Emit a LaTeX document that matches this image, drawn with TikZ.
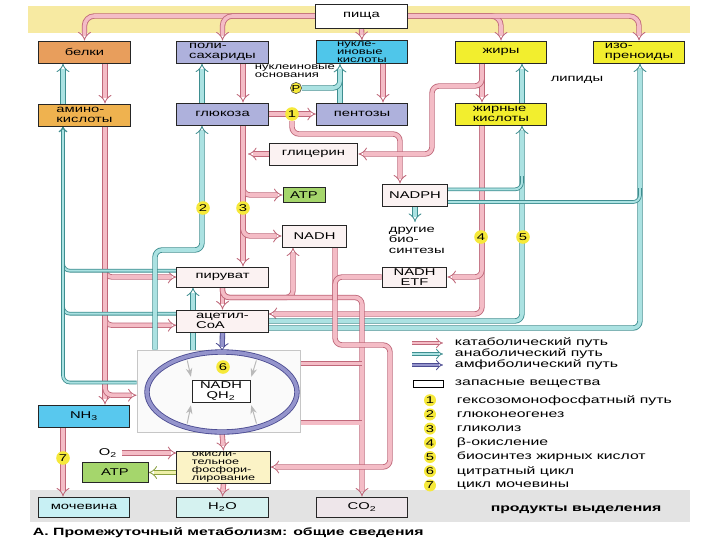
\documentclass[tikz,border=0pt]{standalone}
\usepackage{fontspec}
\setmainfont{Liberation Sans}[FakeStretch=1.5]
\usetikzlibrary{arrows.meta, positioning, shapes.geometric, backgrounds}

\definecolor{bandY}{HTML}{F7EAA2}
\definecolor{bandG}{HTML}{E3E3E3}
\definecolor{protF}{HTML}{E89E5C}
\definecolor{aminoF}{HTML}{EFB24F}
\definecolor{carbF}{HTML}{AEB1DC}
\definecolor{nuclF}{HTML}{4FC6EA}
\definecolor{lipF}{HTML}{F2EE2E}
\definecolor{metF}{HTML}{FBF2F2}
\definecolor{atpF}{HTML}{A5D66C}
\definecolor{nhF}{HTML}{58C8EE}
\definecolor{ureaF}{HTML}{C8F0F4}
\definecolor{waterF}{HTML}{D5F2F0}
\definecolor{coF}{HTML}{EEE6EA}
\definecolor{oxF}{HTML}{FBF3C6}
\definecolor{numF}{HTML}{F6E93A}
\definecolor{catE}{HTML}{C0687A}
\definecolor{catF}{HTML}{F4BCC6}
\definecolor{anaE}{HTML}{3E8E90}
\definecolor{anaF}{HTML}{ABE2E2}
\definecolor{amphE}{HTML}{4C4C92}
\definecolor{amphF}{HTML}{9494CC}
\definecolor{enrE}{HTML}{8AA040}
\definecolor{enrF}{HTML}{EEF0A8}

\newcommand\boxfnt{\fontsize{7}{7.5}\selectfont}
\newcommand\bxs{\fontsize{6.2}{5.9}\selectfont}
\newcommand\lgd{\fontsize{7.5}{8}\selectfont}

\pgfdeclarelayer{bands}
\pgfsetlayers{bands,background,main}

\begin{document}
\begin{tikzpicture}[
  x=0.025cm, y=-0.025cm,
  every node/.style={font=\boxfnt},
  box/.style={rectangle, draw=black!85, line width=0.7pt,
              minimum width=2.28cm, minimum height=0.55cm,
              inner sep=0.5pt, align=left},
  sbox/.style={box, minimum width=1.62cm},
  num/.style={circle, fill=numF, inner sep=0pt, minimum size=0.34cm},
  pipe/.style={line width=0.6pt, double distance=2.6pt,
               rounded corners=5pt, -Implies},
  cat/.style={pipe, draw=catE, double=catF},
  ana/.style={pipe, draw=anaE, double=anaF},
  anathin/.style={ana, double distance=1.4pt},
  amph/.style={pipe, draw=amphE, double=amphF},
  enr/.style={pipe, draw=enrE, double=enrF},
  gry/.style={-Stealth, draw=gray!55, line width=0.7pt},
  leg/.style={anchor=west, font=\lgd},
]
\useasboundingbox (0,0) rectangle (720,540);

%% ── Lanes (x of the vertical pipes) ───────────────────
\coordinate (aaUp)  at (63,0);
\coordinate (aaDn)  at (105,0);
\coordinate (gngL)  at (155,0);
\coordinate (pyrUp) at (193,0);
\coordinate (glUp)  at (202,0);
\coordinate (glDn)  at (243,0);
\coordinate (pdhL)  at (293,0);
\coordinate (nadhL) at (335,0);
\coordinate (ntUp)  at (340,0);
\coordinate (ntDn)  at (383,0);
\coordinate (pnL)   at (400,0);
\coordinate (faDn)  at (482,0);
\coordinate (faUp)  at (522,0);
\coordinate (isUp)  at (640,0);

%% ── Food and stores ───────────────────────────────────
\node[box, fill=white, minimum height=0.6cm] (food) at (361.5,16) {пища};

\node[box, fill=protF] (prot) at (84.5,52)  {белки};
\node[box, fill=carbF] (poly) at (222.5,52) {поли-\\сахариды};
\node[box, fill=nuclF, font=\bxs] (nucl) at (362,52) {нукле-\\иновые\\кислоты};
\node[box, fill=lipF]  (fat)  at (501,52)   {жиры};
\node[box, fill=lipF]  (isop) at (639,52)   {изо-\\преноиды};

\node[box, fill=aminoF] (amino) at (84.5,115)  {амино-\\кислоты};
\node[box, fill=carbF]  (gluc)  at (222.5,114) {глюкоза};
\node[box, fill=carbF]  (pent)  at (362,114)   {пентозы};
\node[box, fill=lipF]   (facid) at (501,114)   {жирные\\кислоты};

%% ── Intermediates ─────────────────────────────────────
\node[box, fill=metF, minimum width=2.22cm] (glyc) at (313.5,154) {глицерин};
\node[box, fill=atpF, minimum width=1.05cm, minimum height=0.38cm] (atpa) at (304,195) {ATP};
\node[sbox, fill=metF] (nadh)  at (314.5,236) {NADH};
\node[sbox, fill=metF] (nadph) at (415,195)   {NADPH};
\node[sbox, fill=metF, minimum height=0.5cm, align=center] (etf) at (414.5,277) {NADH\\ETF};
\node[box, fill=metF, minimum height=0.5cm] (pyr)  at (222.5,277) {пируват};
\node[box, fill=metF] (acoa) at (222.5,321) {ацетил-\\CoA};

%% ── Citrate cycle ─────────────────────────────────────
\node[draw=gray!45, fill=gray!4, minimum width=4.08cm, minimum height=2.05cm] (cbox) at (218.5,391) {};
\node[ellipse, draw=amphE, double=amphF, double distance=2.6pt, line width=0.6pt,
      minimum width=3.75cm, minimum height=2cm] (cyc) at (222,392) {};
\node[box, fill=white, minimum width=1.45cm, align=center] (qh) at (221,391) {NADH\\QH\textsubscript{2}};

%% ── Respiration and excretion ─────────────────────────
\node[box, fill=oxF, minimum width=2.33cm, minimum height=0.8cm,
      font=\fontsize{6}{5.6}\selectfont] (oxph) at (223.5,467) {окисли-\\тельное\\фосфори-\\лирование};
\node[box, fill=atpF, minimum width=1.65cm, minimum height=0.52cm, align=center] (atpb) at (115,472.5) {ATP};
\node (oxy) at (108,453) {O\textsubscript{2}};
\node[box, fill=nhF, align=center] (nh3) at (84,416) {NH\textsubscript{3}};

\node[box, fill=ureaF,  minimum height=0.5cm] (urea)  at (84,507)    {мочевина};
\node[box, fill=waterF, minimum height=0.5cm, align=center] (water) at (222.5,507) {H\textsubscript{2}O};
\node[box, fill=coF,    minimum height=0.5cm, align=center] (co2)   at (362,507)   {CO\textsubscript{2}};
\node[font=\bfseries\lgd] (excr) at (576,510) {продукты выделения};

%% ── Pathway numbers ───────────────────────────────────
\node[num] (n1) at (292,114) {1};
\node[num] (n2) at (203,208) {2};
\node[num] (n3) at (243,208) {3};
\node[num] (n4) at (481,237) {4};
\node[num] (n5) at (523,237) {5};
\node[num] (n6) at (223,367) {6};
\node[num] (n7) at (63,458)  {7};
\node[num, draw=black!70, minimum size=0.28cm, font=\bxs] (pho) at (296,88) {P};

%% ── Free labels ───────────────────────────────────────
\node[anchor=west, align=left, font=\bxs] (bases) at (250,71) {нуклеиновые\\основания};
\node (lip) at (577,80) {липиды};
\node[anchor=north west, align=left] (bios) at (384,222) {другие\\био-\\синтезы};
\node[anchor=west, font=\bfseries\lgd] (capt) at (28,533) {А. Промежуточный метаболизм: общие сведения};

%% ── Join points ───────────────────────────────────────
\coordinate (glyJ) at (248,154);
\coordinate (gngK) at (202,250);
\coordinate (pnK)  at (400,134);
\coordinate (phJ)  at (340,74);
\coordinate (glyK) at (432,86);
\coordinate (j5)   at (522,176);
\coordinate (j6)   at (640,188);
\coordinate (oxK)  at (390,345);
\coordinate (etfJ) at (335,300);

%% ── Pipes ─────────────────────────────────────────────
\begin{pgfonlayer}{background}
  % food
  \draw[cat, rounded corners=7pt] (food.west) -| (prot.north);
  \draw[cat, rounded corners=7pt] (food.west) -| (poly.north);
  \draw[cat] (food.south) -- (nucl.north);
  \draw[cat, rounded corners=7pt] (food.east) -| (fat.north);
  \draw[cat, rounded corners=7pt] (food.east) -| (isop.north);

  % proteins
  \draw[cat] (prot.south -| aaDn) -- (amino.north -| aaDn);
  \draw[ana] (amino.north -| aaUp) -- (prot.south -| aaUp);
  \draw[cat] (amino.south -| aaDn) -- (nh3.north -| aaDn);
  \draw[cat] (amino.south -| aaDn) |- (pyr.west);
  \draw[cat] (amino.south -| aaDn) |- ([yshift=-3pt]acoa.west);
  \draw[cat] (amino.south -| aaDn) |- ([yshift=-3pt]cbox.west);
  \draw[anathin] ([yshift=-3pt]pyr.north west) -| (amino.south -| aaUp);
  \draw[anathin] ([yshift=-3pt]acoa.north west) -| (amino.south -| aaUp);
  \draw[anathin] ([yshift=6pt]cbox.west) -| (amino.south -| aaUp);
  \draw[cat] (nh3.south -| aaUp) -- (urea.north -| aaUp);

  % carbohydrates
  \draw[cat] (poly.south -| glDn) -- (gluc.north -| glDn);
  \draw[ana] (gluc.north -| glUp) -- (poly.south -| glUp);
  \draw[cat] (gluc.south -| glDn) -- (pyr.north -| glDn);
  \draw[cat] (gluc.south -| glDn) |- (atpa.west);
  \draw[cat] (gluc.south -| glDn) |- (nadh.west);
  \draw[cat] (glyc.west) -- (glyJ);
  \draw[ana] (cbox.north -| gngL) |- (gngK) -- (gluc.south -| glUp);
  \draw[ana] (cbox.north -| pyrUp) -- (pyr.south -| pyrUp);

  % pentoses
  \draw[cat] (gluc.east) -- (pent.west);
  \draw[cat] (n1.south) |- (pnK) -- (nadph.north -| pnL);
  \draw[cat] (nucl.south -| ntDn) -- (pent.north -| ntDn);
  \draw[ana] (pent.north -| ntUp) -- (nucl.south -| ntUp);
  \draw[ana, -] (pho.east) -| (phJ);

  % lipids
  \draw[cat] (fat.south -| faDn) -- (facid.north -| faDn);
  \draw[cat] (fat.south -| faDn) |- (glyK) |- (glyc.east);
  \draw[ana] (facid.north -| faUp) -- (fat.south -| faUp);
  \draw[cat] (facid.south -| faDn) |- ([yshift=5pt]acoa.east);
  \draw[cat] (facid.south -| faDn) |- (etf.east);
  \draw[ana] (acoa.east) -| (facid.south -| faUp);
  \draw[ana] ([yshift=-5pt]acoa.east) -| (isop.south -| isUp);
  \draw[anathin, -] ([yshift=4pt]nadph.east) -| (j5);
  \draw[anathin, -] ([yshift=-5pt]nadph.east) -| (j6);
  \draw[ana] (nadph.south) -- (bios.north -| nadph.south);

  % pyruvate, NADH, CO2
  \draw[cat] (pyr.south) -- (acoa.north);
  \draw[cat] (pyr.south) -- ++(0,10) -| (nadh.south -| pdhL);
  \draw[cat] (pyr.south) -- ++(0,10) -| (co2.north);
  \draw[cat] (nadh.south -| nadhL) |- (oxK) |- (oxph.east);
  \draw[cat, -] (etf.west) -| (etfJ);

  % cycle and respiration
  \draw[amph] (acoa.south) -- (cyc.north);
  \draw[cat, -] (cyc.28) -- (cyc.28 -| co2.north);
  \draw[cat, -] (cyc.-32) -- (cyc.-32 -| co2.north);
  \draw[cat] (cyc.south) -- (oxph.north);
  \draw[cat] (oxph.south) -- (water.north);
  \draw[cat] (oxy.east) -- (oxy.east -| oxph.west);
  \draw[enr] (oxph.west |- atpb.east) -- (atpb.east);
\end{pgfonlayer}

% electrons into NADH/QH2
\draw[gry, shorten <=3pt, shorten >=2pt] (cyc.135) -- (qh.north west);
\draw[gry, shorten <=3pt, shorten >=2pt] (cyc.45)  -- (qh.north east);
\draw[gry, shorten <=3pt, shorten >=2pt] (cyc.-135) -- (qh.south west);
\draw[gry, shorten <=3pt, shorten >=2pt] (cyc.-45)  -- (qh.south east);

%% ── Legend ────────────────────────────────────────────
\node[leg] (lcat)   at (450,343) {катаболический путь};
\node[leg] (lana)   at (450,354) {анаболический путь};
\node[leg] (lamph)  at (450,365) {амфиболический путь};
\node[leg] (lstore) at (450,384) {запасные вещества};
\draw[cat, double distance=2pt]  ([xshift=-27pt]lcat.west)  -- ([xshift=-5pt]lcat.west);
\draw[ana, double distance=2pt]  ([xshift=-27pt]lana.west)  -- ([xshift=-5pt]lana.west);
\draw[amph, double distance=2pt] ([xshift=-27pt]lamph.west) -- ([xshift=-5pt]lamph.west);
\node[draw=black, line width=1pt, fill=white, minimum width=0.75cm,
      minimum height=0.17cm, inner sep=0pt, anchor=east] (lbox) at ([xshift=-4pt]lstore.west) {};
\foreach \t [count=\i] in {гексозомонофосфатный путь, глюконеогенез, гликолиз,
    β-окисление, биосинтез жирных кислот, цитратный цикл, цикл мочевины} {
  \node[num, minimum size=0.3cm] (ln\i) at (430,386+14.2*\i) {\i};
  \node[leg] (lt\i) at (452,386+14.2*\i) {\t};
}

%% ── Bands ─────────────────────────────────────────────
\begin{pgfonlayer}{bands}
  \fill[white] (0,0) rectangle (720,540);
  \fill[bandY] (28,6) rectangle (690,33);
  \fill[bandG] (30,490) rectangle (690,522);
\end{pgfonlayer}

\end{tikzpicture}
\end{document}
